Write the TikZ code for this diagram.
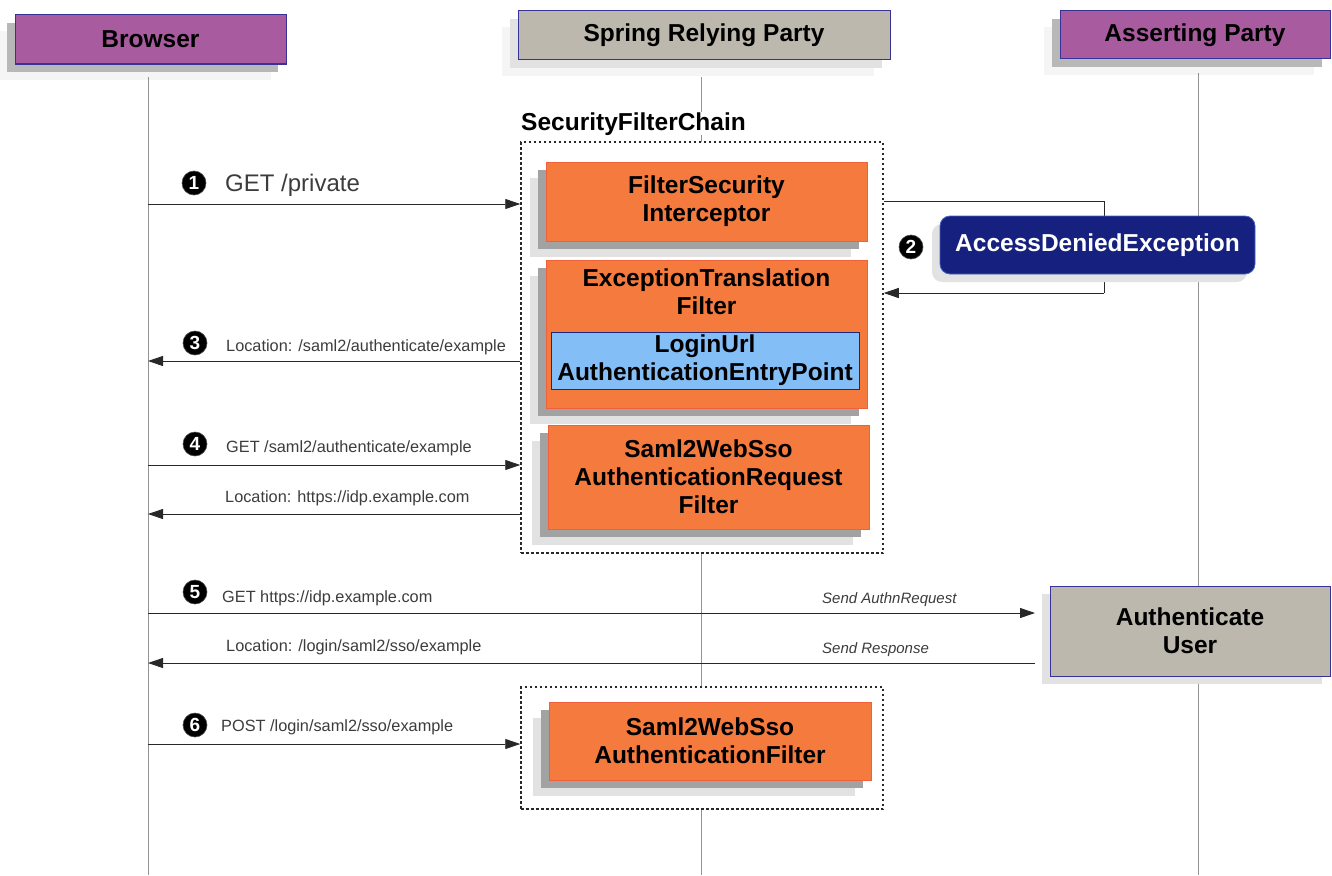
\documentclass[tikz,border=0pt]{standalone}
\usepackage{fontspec}
\setmainfont{Liberation Sans}
\usetikzlibrary{arrows.meta,shadows,calc}
\definecolor{purplef}{RGB}{169,91,160}
\definecolor{hdrb}{RGB}{55,50,150}
\definecolor{grayf}{RGB}{188,184,173}
\definecolor{orangef}{RGB}{244,122,62}
\definecolor{orangeb}{RGB}{240,96,58}
\definecolor{bluef}{RGB}{132,190,246}
\definecolor{blueb}{RGB}{30,40,120}
\definecolor{navyf}{RGB}{22,33,127}
\definecolor{navyb}{RGB}{70,100,190}
\definecolor{shD}{RGB}{162,162,162}
\definecolor{shM}{RGB}{184,184,184}
\definecolor{shL}{RGB}{226,226,226}
\definecolor{shX}{RGB}{245,245,245}
\definecolor{linec}{RGB}{40,40,40}
\definecolor{lblc}{RGB}{60,60,60}
\begin{document}
\begin{tikzpicture}[x=1pt,y=-1pt,
  bigfont/.style={font=\fontsize{24.5}{28}\selectfont\bfseries},
  hdr/.style={draw=hdrb, line width=1pt, inner sep=0pt, bigfont, align=center, text=black},
  filt/.style={draw=orangeb, fill=orangef, line width=0.8pt, inner sep=0pt, bigfont, align=center,
    general shadow={fill=shL, shadow xshift=-16pt, shadow yshift=-16pt},
    general shadow={fill=shD, shadow xshift=-8pt, shadow yshift=-8pt}},
  chainbox/.style={draw=linec, fill=white, line width=1.5pt, dash pattern=on 2.5pt off 2.5pt, inner sep=0pt},
  life/.style={draw=gray!85, line width=0.9pt},
  msg/.style={draw=linec, line width=0.9pt, -{Triangle[length=15pt,width=10pt]}},
  lbl/.style={anchor=base west, inner sep=0pt, text=lblc, font=\fontsize{16.3}{19}\selectfont},
  ilbl/.style={anchor=base west, inner sep=0pt, text=lblc, font=\fontsize{15}{18}\selectfont\itshape},
  num/.style={circle, fill=black, draw=black!70, line width=0.6pt, inner sep=0pt, minimum size=24pt, text=white, font=\fontsize{19}{19}\selectfont\bfseries}
]
\useasboundingbox (0,0) rectangle (1332,875);

% header boxes
\node[hdr, fill=purplef, minimum width=271pt, minimum height=49pt,
  general shadow={fill=shX, shadow xshift=-15pt, shadow yshift=-16pt},
  general shadow={fill=shM, shadow xshift=-8pt, shadow yshift=-8pt}] (browser) at (150.5,39.5) {Browser};
\node[hdr, fill=grayf, minimum width=372pt, minimum height=49pt,
  general shadow={fill=shX, shadow xshift=-16pt, shadow yshift=-16pt},
  general shadow={fill=shL, shadow xshift=-8pt, shadow yshift=-8pt}] (spring) at (704,35.5) {Spring Relying Party};
\node[hdr, fill=purplef, minimum width=270pt, minimum height=48pt,
  general shadow={fill=shX, shadow xshift=-16pt, shadow yshift=-16pt},
  general shadow={fill=shM, shadow xshift=-8pt, shadow yshift=-8pt}] (asserting) at (1195,35) {Asserting Party};

% lifelines
\coordinate (bTop) at (148,77);   \coordinate (bBot) at (148,875);
\coordinate (sTop) at (701,77);   \coordinate (sBot) at (701,875);
\coordinate (aTop) at (1198,73);  \coordinate (aBot) at (1198,875);
\draw[life] (bTop) -- (bBot);
\draw[life] (sTop) -- (sBot);
\draw[life] (aTop) -- (aBot);

% filter chain containers
\node[chainbox, minimum width=362pt, minimum height=411pt] (chain1) at (702,347.5) {};
\node[chainbox, minimum width=362pt, minimum height=122pt] (chain2) at (702,748) {};
\node[anchor=base west, inner sep=0pt, fill=white, bigfont] (chainlbl) at (521,130) {SecurityFilterChain};

% message anchor points on browser lifeline
\coordinate (m1) at (148,204);
\coordinate (m3) at (148,361);
\coordinate (m4) at (148,465);
\coordinate (m4b) at (148,514);
\coordinate (m5) at (148,613);
\coordinate (m5b) at (148,663);
\coordinate (m6) at (148,744);

% connector 2 (behind the exception box)
\coordinate (e2a) at (1104,201);
\coordinate (e2b) at (1104,293);
\draw[linec, line width=0.9pt] (chain1.east |- e2a) -- (e2a) -- (e2b);
\draw[msg] (e2b) -- (chain1.east |- e2b);

% filters
\node[filt, minimum width=321pt, minimum height=79pt] (fsi) at (706.5,201.5) {FilterSecurity\\Interceptor};
\node[filt, minimum width=321pt, minimum height=148pt] (etf) at (706.5,334) {};
\node[inner sep=0pt, bigfont, align=center] (etflbl) at (706.5,292) {ExceptionTranslation\\Filter};
\node[draw=blueb, fill=bluef, line width=0.8pt, inner sep=0pt, minimum width=308pt, minimum height=57pt, bigfont, align=center] (login) at (705,360.5) {LoginUrl\\AuthenticationEntryPoint};
\node[filt, minimum width=321pt, minimum height=104pt] (sreq) at (708.5,477) {Saml2WebSso\\AuthenticationRequest\\Filter};
\node[filt, minimum width=322pt, minimum height=78pt] (sauth) at (710,741) {Saml2WebSso\\AuthenticationFilter};

% access denied
\node[draw=navyb, fill=navyf, line width=0.8pt, rounded corners=10pt, inner sep=0pt, minimum width=315pt, minimum height=58pt, bigfont, text=white,
  general shadow={fill=shL, shadow xshift=-8pt, shadow yshift=-8pt}] (ade) at (1097.5,245) {AccessDeniedException};
\node[num] (n2) at (911,247) {2};

% authenticate user
\node[hdr, fill=grayf, minimum width=280pt, minimum height=90pt,
  general shadow={fill=shL, shadow xshift=-8pt, shadow yshift=-8pt}] (auth) at (1190,631) {Authenticate\\User};

% messages
\draw[msg] (m1) -- (m1 -| chain1.west);
\node[num] (n1) at (194,183) {1};
\node[anchor=base west, inner sep=0pt, text=lblc, font=\fontsize{24}{26}\selectfont] (l1) at (225,191) {GET /private};

\draw[msg] (m3 -| chain1.west) -- (m3);
\node[num] (n3) at (195,343) {3};
\node[lbl] (l3) at (226,351) {Location: /saml2/authenticate/example};

\draw[msg] (m4) -- (m4 -| chain1.west);
\node[num] (n4) at (195,444) {4};
\node[lbl] (l4) at (226,452) {GET /saml2/authenticate/example};

\draw[msg] (m4b -| chain1.west) -- (m4b);
\node[lbl] (l4b) at (225,502) {Location: https://idp.example.com};

\coordinate (r5) at (1035,613);
\coordinate (r5b) at (1035,663);
\draw[msg] (m5) -- (r5);
\node[num] (n5) at (195,592) {5};
\node[lbl] (l5) at (222,602) {GET https://idp.example.com};
\node[ilbl] (s5) at (822,603) {Send AuthnRequest};

\draw[msg] (r5b) -- (m5b);
\node[lbl] (l5b) at (226,651) {Location: /login/saml2/sso/example};
\node[ilbl] (s5b) at (822,653) {Send Response};

\draw[msg] (m6) -- (m6 -| chain2.west);
\node[num] (n6) at (195,725) {6};
\node[lbl] (l6) at (221,731) {POST /login/saml2/sso/example};
\end{tikzpicture}
\end{document}
